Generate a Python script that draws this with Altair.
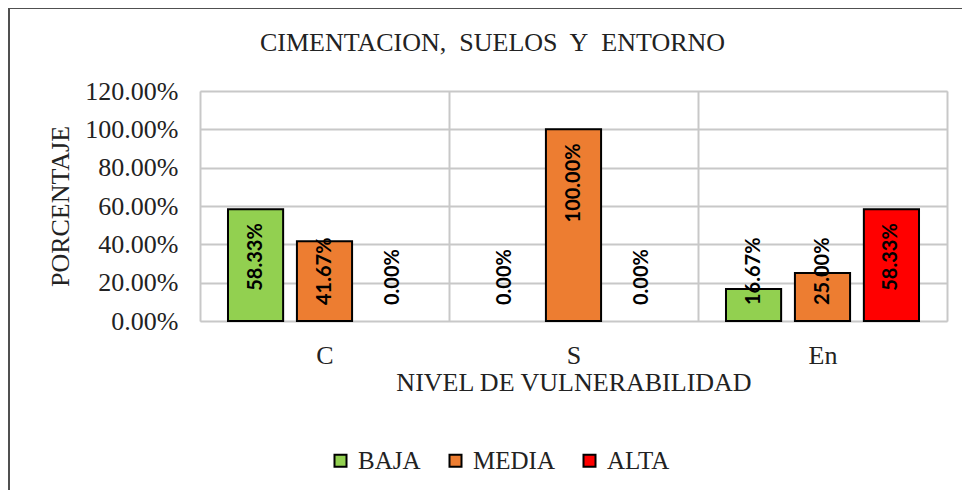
import altair as alt
import pandas as pd

categories = ["C", "S", "En"]
levels = ["BAJA", "MEDIA", "ALTA"]
baja = [0.5833, 0.0, 0.1667]
media = [0.4167, 1.0, 0.25]
alta = [0.0, 0.0, 0.5833]
colors = ["#92D050", "#ED7D31", "#FF0000"]
y_ticks = [0.0, 0.2, 0.4, 0.6, 0.8, 1.0, 1.2]
title_text = "CIMENTACION,\u00a0 SUELOS\u00a0 Y\u00a0 ENTORNO"

rows = []
for i, c in enumerate(categories):
    for lvl, vals in zip(levels, [baja, media, alta]):
        rows.append({"cat": c, "nivel": lvl, "valor": vals[i]})
df = pd.DataFrame(rows)

FONT = "Liberation Serif"
LFONT = "Lato"
GRID = "#c8c8c8"
TXT = "#222222"

xaxis = alt.Axis(
    tickBand="extent", grid=True, gridColor=GRID, gridWidth=2,
    domain=False, ticks=False, labelAngle=0, labelPadding=21,
    labelFont=FONT, labelFontSize=26, labelColor=TXT,
    titleFont=FONT, titleFontSize=26, titleFontWeight="normal", titleColor=TXT,
    titleY=69, titleBaseline="alphabetic",
)
yaxis = alt.Axis(
    values=y_ticks, format=".2%", grid=True, gridColor=GRID, gridWidth=2,
    domain=False, ticks=False, labelPadding=22, labelOverlap=False,
    labelFont=FONT, labelFontSize=26, labelColor=TXT,
    titleFont=FONT, titleFontSize=26, titleFontWeight="normal", titleColor=TXT,
    titleX=-140, titleY=115, titleAngle=270, titleAlign="center",
    titleBaseline="middle",
)
xscale = alt.Scale(paddingInner=0, paddingOuter=0)
yscale = alt.Scale(domain=[0, 1.2])
XT = "NIVEL DE VULNERABILIDAD"
YT = "PORCENTAJE"


def xenc():
    return alt.X("cat:N", sort=categories, title=XT, scale=xscale, axis=xaxis)


def xoenc():
    return alt.XOffset("nivel:N", sort=levels,
                       scale=alt.Scale(paddingInner=0.2, paddingOuter=0.406))


def yenc(field):
    return alt.Y(field, scale=yscale, title=YT, axis=yaxis)


color = alt.Color(
    "nivel:N", sort=levels,
    scale=alt.Scale(domain=levels, range=colors),
    legend=alt.Legend(
        title=None, orient="none", legendX=128, legendY=357,
        direction="horizontal", symbolType="square", symbolSize=144,
        symbolStrokeColor="black", symbolStrokeWidth=2, symbolOpacity=1,
        labelFont=FONT, labelFontSize=25, labelColor=TXT, labelOffset=5,
        columnPadding=22,
    ),
)

base = alt.Chart(df)

bars = base.transform_filter("datum.valor > 0").mark_bar(
    stroke="black", strokeWidth=2
).encode(x=xenc(), xOffset=xoenc(), y=yenc("valor:Q"), color=color)

label_style = dict(angle=270, baseline="middle", font=LFONT, fontWeight="bold",
                   fontSize=20, color="black")

hi = base.transform_filter("datum.valor > 0.5").mark_text(
    align="right", dx=-14, **label_style
).encode(
    x=xenc(), xOffset=xoenc(), y=yenc("valor:Q"),
    text=alt.Text("valor:Q", format=".2%"),
)

lo = base.transform_filter("datum.valor <= 0.5").transform_calculate(
    zero="0"
).mark_text(
    align="left", dx=16, **label_style
).encode(
    x=xenc(), xOffset=xoenc(), y=yenc("zero:Q"),
    text=alt.Text("valor:Q", format=".2%"),
)

frame = alt.Chart(alt.Data(values=[{"a": 1}])).mark_rect(
    fill=None, stroke="#505050", strokeWidth=2
).encode(
    x=alt.value(-191), x2=alt.value(900), y=alt.value(-83), y2=alt.value(600)
)

chart = alt.layer(frame, bars, hi, lo).properties(
    width=747, height=230,
    title=alt.TitleParams(
        title_text, font=FONT, fontSize=26, fontWeight="normal", color=TXT,
        anchor="middle", frame="group", baseline="alphabetic", offset=0,
        dx=-81, dy=70,
    ),
    autosize=alt.AutoSizeParams(type="none"),
    padding={"left": 192, "top": 83, "right": 15, "bottom": 169},
).configure_view(stroke=GRID, strokeWidth=2).configure(background="white")

chart.save("out.html", embed_options={"renderer": "svg", "actions": False})
